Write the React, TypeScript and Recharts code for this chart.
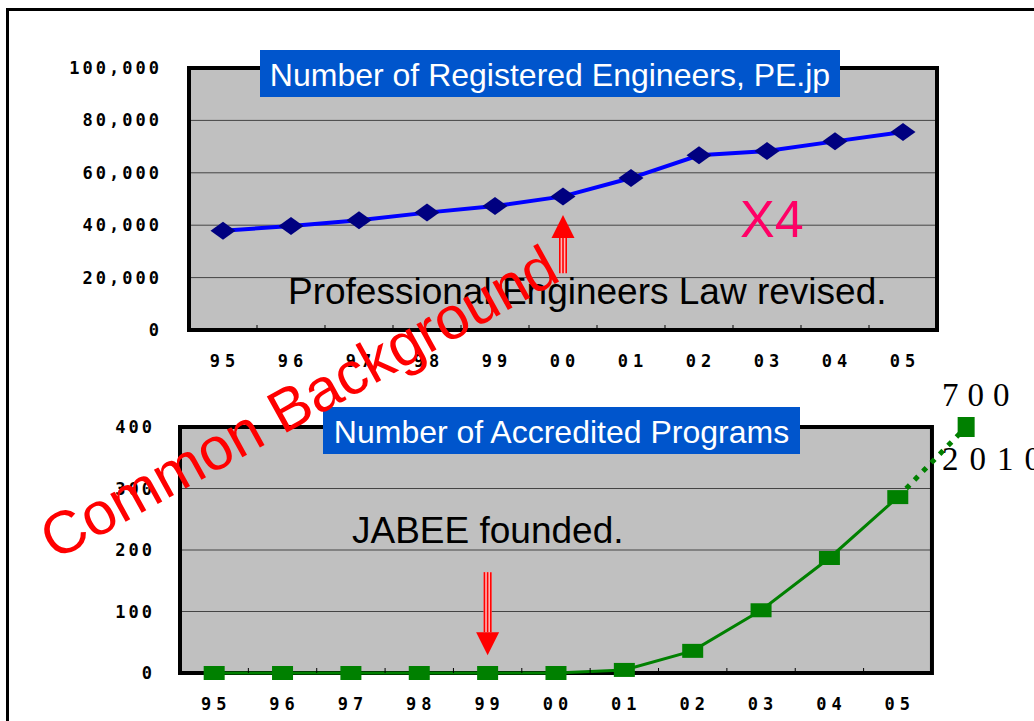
import React from 'react';
import { LineChart, Line, XAxis, YAxis, CartesianGrid, ReferenceArea, ReferenceLine } from 'recharts';

const years = ['95', '96', '97', '98', '99', '00', '01', '02', '03', '04', '05'];
const engineers = [37900, 39700, 41900, 44800, 47300, 51000, 58000, 66700, 68300, 72000, 75600];
const programs = [0, 0, 0, 0, 0, 0, 5, 36, 102, 187, 286];
const targetYear = '10';
const targetLabel = '2010';
const targetPrograms = 700;
const engineerTicks = [0, 20000, 40000, 60000, 80000, 100000];
const programTicks = [0, 100, 200, 300, 400];

const SANS = '"Liberation Sans", Arial, sans-serif';
const SERIF = '"Liberation Serif", "DejaVu Serif", serif';
const TICK_FONT = { fontFamily: '"DejaVu Sans Mono", monospace', fontSize: 17, fontWeight: 'bold', fill: '#000', letterSpacing: 3 };
const PLOT_BG = '#C0C0C0';
const GRID = '#444';

// band widths (plot width / number of categories)
const TOP_BAND = 68;
const BOTTOM_BAND = 68.36;

const engineerMax = engineerTicks[engineerTicks.length - 1];
const programMax = programTicks[programTicks.length - 1];

const topData = years.map((year, i) => ({ year, value: engineers[i] }));
const last = programs.length - 1;
const bottomData = [...years, targetYear].map((year, i) => ({
  year,
  value: i <= last ? programs[i] : null,
  // the 2010 target is off the scale, so it is pinned at the top of the axis
  projection: i === last ? programs[i] : i === last + 1 ? Math.min(targetPrograms, programMax) : null,
}));

const makeXTick = (band: number, skip?: string) => (props: any) => {
  const { x, y, payload } = props;
  const index = props.index ?? payload.index ?? 0;
  if (payload.value === skip) return <g />;
  return (
    <g>
      {index > 0 && <line x1={x - band / 2} x2={x - band / 2} y1={y - 5} y2={y} stroke="#000" strokeWidth={1} />}
      <text x={x + 2} y={y + 31} dy="0.355em" textAnchor="middle" {...TICK_FONT} letterSpacing={5}>
        {payload.value}
      </text>
    </g>
  );
};

const Diamond = (props: any) => {
  const { cx, cy } = props;
  if (cx == null || cy == null) return <g />;
  return <polygon points={`${cx - 12.5},${cy} ${cx},${cy - 9} ${cx + 12.5},${cy} ${cx},${cy + 9}`} fill="#000080" />;
};

const Square = (props: any) => {
  const { cx, cy } = props;
  if (cx == null || cy == null) return <g />;
  return <rect x={cx - 10.5} y={cy - 7} width={21} height={14} fill="#008000" />;
};

const TargetDot = (props: any) => {
  const { cx, cy, index } = props;
  if (cx == null || cy == null || index !== last + 1) return <g />;
  return <rect x={cx - 8.5} y={cy - 10} width={17} height={20} fill="#008000" />;
};

const Arrow = (props: any) => {
  const { x1, y1, x2, y2 } = props;
  const dir = y2 > y1 ? 1 : -1;
  const baseY = y2 - dir * 23;
  return (
    <g>
      <rect x={x1 - 4} y={Math.min(y1, baseY)} width={8} height={Math.abs(baseY - y1)} fill="#FFB4B4" />
      {[-3.2, 0, 3.2].map((d) => (
        <line key={d} x1={x1 + d} x2={x1 + d} y1={y1} y2={baseY} stroke="#FF0000" strokeWidth={1.6} />
      ))}
      <polygon points={`${x2 - 11.5},${baseY} ${x2 + 11.5},${baseY} ${x2},${y2}`} fill="#FF0000" />
    </g>
  );
};

const EngineersChart = () => (
  <LineChart width={960} height={400} data={topData} margin={{ top: 68, right: 23, bottom: 0, left: 0 }}>
    <CartesianGrid vertical={false} fill={PLOT_BG} fillOpacity={1} stroke={GRID} />
    <XAxis dataKey="year" scale="band" height={70} axisLine={false} tickLine={false} tickSize={0} tickMargin={0} interval={0} tick={makeXTick(TOP_BAND)} />
    <YAxis
      width={189}
      domain={[0, engineerMax]}
      ticks={engineerTicks}
      interval={0}
      axisLine={false}
      tickLine={false}
      tickSize={0}
      tickMargin={27}
      tick={TICK_FONT}
      tickFormatter={(v: number) => v.toLocaleString('en-US')}
    />
    <ReferenceArea x1={years[0]} x2={years[last]} y1={0} y2={engineerMax} fill="none" stroke="#000" strokeWidth={4} />
    <ReferenceLine segment={[{ x: '00', y: 21700 }, { x: '00', y: 43900 }]} shape={Arrow} />
    <Line dataKey="value" stroke="#0000FF" strokeWidth={4} dot={<Diamond />} activeDot={false} isAnimationActive={false} />
  </LineChart>
);

const ProgramsChart = () => (
  <LineChart width={1034} height={341} data={bottomData} margin={{ top: 47, right: 1034 - 180 - 12 * BOTTOM_BAND, bottom: 0, left: 0 }}>
    <CartesianGrid vertical={false} x={180} width={11 * BOTTOM_BAND} fill={PLOT_BG} fillOpacity={1} stroke={GRID} />
    <XAxis dataKey="year" scale="band" height={48} axisLine={false} tickLine={false} tickSize={0} tickMargin={0} interval={0} tick={makeXTick(BOTTOM_BAND, targetYear)} />
    <YAxis
      width={180}
      domain={[0, programMax]}
      ticks={programTicks}
      interval={0}
      axisLine={false}
      tickLine={false}
      tickSize={0}
      tickMargin={25}
      tick={TICK_FONT}
    />
    <ReferenceArea x1={years[0]} x2={years[last]} y1={0} y2={programMax} fill="none" stroke="#000" strokeWidth={4} />
    <ReferenceLine segment={[{ x: '99', y: 164 }, { x: '99', y: 29 }]} shape={Arrow} />
    <Line dataKey="projection" stroke="#008000" strokeWidth={5} strokeDasharray="5 7" dot={<TargetDot />} activeDot={false} connectNulls={false} isAnimationActive={false} />
    <Line dataKey="value" stroke="#008000" strokeWidth={3} dot={<Square />} activeDot={false} connectNulls={false} isAnimationActive={false} />
  </LineChart>
);

export default function App() {
  return (
    <div style={{ position: 'fixed', left: 0, top: 0, width: 1034, height: 721, overflow: 'hidden', background: '#fff' }}>
      <div style={{ position: 'absolute', left: 6, top: 8, width: 1200, height: 900, borderLeft: '3px solid #000', borderTop: '3px solid #000' }} />
      <div style={{ position: 'absolute', left: 0, top: 0 }}>
        <EngineersChart />
      </div>
      <div style={{ position: 'absolute', left: 0, top: 380 }}>
        <ProgramsChart />
      </div>
      <svg width={1034} height={721} style={{ position: 'absolute', left: 0, top: 0, pointerEvents: 'none' }}>
        <rect x={260} y={50} width={580} height={47} fill="#0055CC" />
        <text x={550} y={86} textAnchor="middle" fill="#fff" fontFamily={SANS} fontSize={32}>
          Number of Registered Engineers, PE.jp
        </text>
        <rect x={323} y={407} width={477} height={47} fill="#0055CC" />
        <text x={561.5} y={443} textAnchor="middle" fill="#fff" fontFamily={SANS} fontSize={32}>
          Number of Accredited Programs
        </text>
        <text x={288} y={304} fill="#000" fontFamily={SANS} fontSize={37}>
          Professional Engineers Law revised.
        </text>
        <text x={352} y={543} fill="#000" fontFamily={SANS} fontSize={37}>
          JABEE founded.
        </text>
        <text x={740} y={237} fill="#FF0066" fontFamily={SANS} fontSize={52}>
          X4
        </text>
        <text x={942} y={406} fill="#000" fontFamily={SERIF} fontSize={33} letterSpacing={9}>
          {targetPrograms}
        </text>
        <text x={942} y={470} fill="#000" fontFamily={SERIF} fontSize={33} letterSpacing={11}>
          {targetLabel}
        </text>
        <text x={55} y={561} fill="#FF0000" fontFamily={SANS} fontSize={60} transform="rotate(-29 55 561)">
          Common Background
        </text>
      </svg>
    </div>
  );
}
